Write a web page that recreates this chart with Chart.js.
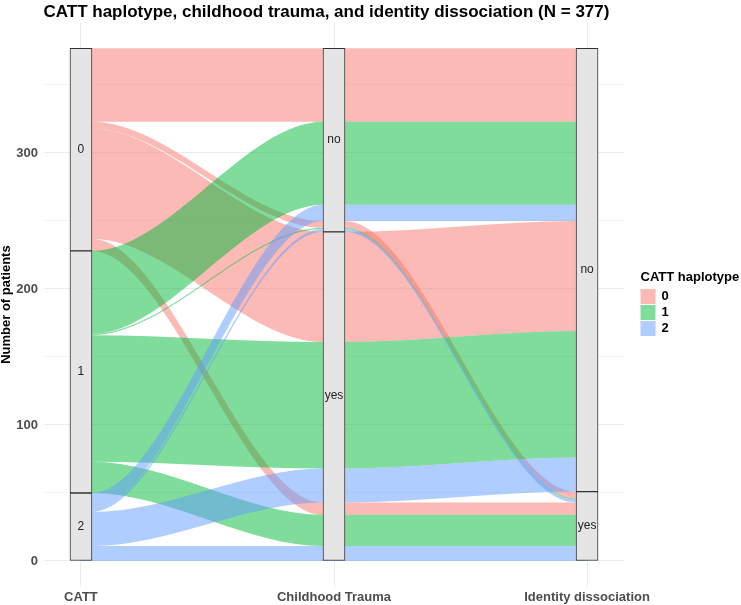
<!DOCTYPE html>
<html>
<head>
<meta charset="utf-8">
<script src="https://cdn.jsdelivr.net/npm/chart.js@4"></script>
<style>
  html, body { margin: 0; padding: 0; background: #fff; }
</style>
</head>
<body>
<canvas id="chart" width="741" height="605"></canvas>
<script>
// axes and their strata (first level is drawn on top)
const axisNames = ['CATT', 'Childhood Trauma', 'Identity dissociation'];
const cattLevels = ['0', '1', '2'];
const traumaLevels = ['no', 'yes'];
const dissocLevels = ['no', 'yes'];

// one entry per alluvium: CATT haplotype x childhood trauma x identity dissociation
const flowCatt   = ['0', '0', '0', '0', '1', '1', '1', '1', '2', '2', '2', '2'];
const flowTrauma = ['no', 'no', 'yes', 'yes', 'no', 'no', 'yes', 'yes', 'no', 'no', 'yes', 'yes'];
const flowDissoc = ['no', 'yes', 'no', 'yes', 'no', 'yes', 'no', 'yes', 'no', 'yes', 'no', 'yes'];
const flowCount  = [54, 5, 81, 9, 61, 1, 93, 23, 12, 2, 25, 11];

const hapColors = ['rgba(248,118,109,0.5)', 'rgba(0,186,56,0.5)', 'rgba(97,156,255,0.5)'];
const yTicks = [0, 50, 100, 150, 200, 250, 300, 350];

const FONT = '"Liberation Sans", Arial, sans-serif';
const STRATUM_W = 1 / 12;
const N = flowCount.reduce((a, b) => a + b, 0);

const axisLevels = [cattLevels, traumaLevels, dissocLevels];
const flowValues = [flowCatt, flowTrauma, flowDissoc];
// lode ordering inside a stratum (zigzag: own axis, then the others)
const lodeOrder = [[0, 1, 2], [1, 2, 0], [2, 1, 0]];

function levelIndex(axis, i) {
    return axisLevels[axis].indexOf(flowValues[axis][i]);
}

// stack the lodes of every axis from the top down
const lodeTop = [], lodeBottom = [];
for (let a = 0; a < 3; a++) {
    const idx = flowCount.map((_, i) => i);
    idx.sort((p, q) => {
        for (const k of lodeOrder[a]) {
            const d = levelIndex(k, p) - levelIndex(k, q);
            if (d !== 0) return d;
        }
        return 0;
    });
    let y = N;
    lodeTop[a] = [];
    lodeBottom[a] = [];
    idx.forEach(i => {
        lodeTop[a][i] = y;
        y -= flowCount[i];
        lodeBottom[a][i] = y;
    });
}

// strata boxes
const strata = [];
for (let a = 0; a < 3; a++) {
    let y = N;
    axisLevels[a].forEach(lev => {
        let n = 0;
        flowCount.forEach((c, i) => { if (flowValues[a][i] === lev) n += c; });
        strata.push({ x: a + 1, y: [y - n, y], label: lev });
        y -= n;
    });
}

// flow outline x positions: under the box, box edges, under the box...
const flowX = [1, 1 + STRATUM_W / 2, 2 - STRATUM_W / 2, 2 + STRATUM_W / 2, 3 - STRATUM_W / 2, 3];
const flowAxis = [0, 0, 1, 1, 2, 2];

const datasets = [];
flowCount.forEach((c, i) => {
    const color = hapColors[cattLevels.indexOf(flowCatt[i])];
    // later alluvia are painted over earlier ones
    const base = {
        type: 'line',
        borderWidth: 0,
        borderColor: 'rgba(0,0,0,0)',
        pointRadius: 0,
        cubicInterpolationMode: 'monotone',
        order: 100 - i
    };
    datasets.push(Object.assign({}, base, {
        data: flowX.map((x, k) => ({ x: x, y: lodeBottom[flowAxis[k]][i] })),
        fill: false
    }));
    datasets.push(Object.assign({}, base, {
        data: flowX.map((x, k) => ({ x: x, y: lodeTop[flowAxis[k]][i] })),
        fill: '-1',
        backgroundColor: color
    }));
});

const barIndex = datasets.length;
datasets.push({
    type: 'bar',
    data: strata.map(s => ({ x: s.x, y: s.y })),
    backgroundColor: '#e5e5e5',
    borderColor: '#333333',
    borderWidth: 1,
    borderSkipped: false,
    barThickness: 22,
    order: 0
});

const extrasPlugin = {
    id: 'extras',
    afterDatasetsDraw(chart) {
        const ctx = chart.ctx;
        ctx.save();
        // stratum labels
        ctx.font = '12px ' + FONT;
        ctx.fillStyle = '#222';
        ctx.textAlign = 'center';
        ctx.textBaseline = 'middle';
        chart.getDatasetMeta(barIndex).data.forEach((el, k) => {
            ctx.fillText(strata[k].label, el.x, (el.y + el.base) / 2);
        });
        ctx.restore();
    },
    afterDraw(chart) {
        const ctx = chart.ctx;
        const area = chart.chartArea;
        ctx.save();
        // title
        ctx.font = 'bold 17px ' + FONT;
        ctx.fillStyle = '#000';
        ctx.textAlign = 'left';
        ctx.textBaseline = 'alphabetic';
        ctx.fillText('CATT haplotype, childhood trauma, and identity dissociation (N = ' + N + ')', area.left, 17);
        // legend
        const lx = 640.5, ly = 289;
        ctx.font = 'bold 13px ' + FONT;
        ctx.fillText('CATT haplotype', lx, 281);
        cattLevels.forEach((lev, k) => {
            ctx.fillStyle = hapColors[k];
            ctx.fillRect(lx, ly + k * 16, 15, 15);
            ctx.fillStyle = '#000';
            ctx.textBaseline = 'middle';
            ctx.fillText(lev, lx + 21, ly + k * 16 + 7.5);
        });
        ctx.restore();
    }
};

new Chart(document.getElementById('chart'), {
    type: 'line',
    data: { datasets: datasets },
    options: {
        responsive: false,
        animation: false,
        devicePixelRatio: 1,
        events: [],
        layout: { padding: { top: 22.6, right: 117, left: 0, bottom: 0 } },
        plugins: {
            legend: { display: false },
            tooltip: { enabled: false },
            title: { display: false }
        },
        scales: {
            x: {
                type: 'linear',
                min: 0.852,
                max: 3.146,
                offset: false,
                afterBuildTicks: s => { s.ticks = [1, 2, 3].map(v => ({ value: v })); },
                afterFit: s => { s.height = 18.4; },
                ticks: {
                    callback: v => axisNames[v - 1],
                    color: '#4d4d4d',
                    font: { family: FONT, size: 13, weight: 'bold' },
                    padding: 3,
                    maxRotation: 0,
                    autoSkip: false
                },
                grid: { color: '#ebebeb', drawTicks: false, offset: false },
                border: { display: false }
            },
            y: {
                type: 'linear',
                min: -18.85,
                max: 395.85,
                afterBuildTicks: s => { s.ticks = yTicks.map(v => ({ value: v })); },
                afterFit: s => { s.width = 43.5; },
                ticks: {
                    callback: v => (v % 100 === 0 ? String(v) : ''),
                    color: '#4d4d4d',
                    font: { family: FONT, size: 13, weight: 'bold' },
                    padding: 5.5
                },
                grid: {
                    color: '#ebebeb',
                    lineWidth: c => (c.tick && c.tick.value % 100 === 0 ? 1 : 0.6),
                    drawTicks: false
                },
                border: { display: false },
                title: {
                    display: true,
                    text: 'Number of patients',
                    color: '#000',
                    font: { family: FONT, size: 13, weight: 'bold', lineHeight: 0.95 },
                    padding: { top: 0, bottom: 0 }
                }
            }
        }
    },
    plugins: [extrasPlugin]
});
</script>
</body>
</html>
